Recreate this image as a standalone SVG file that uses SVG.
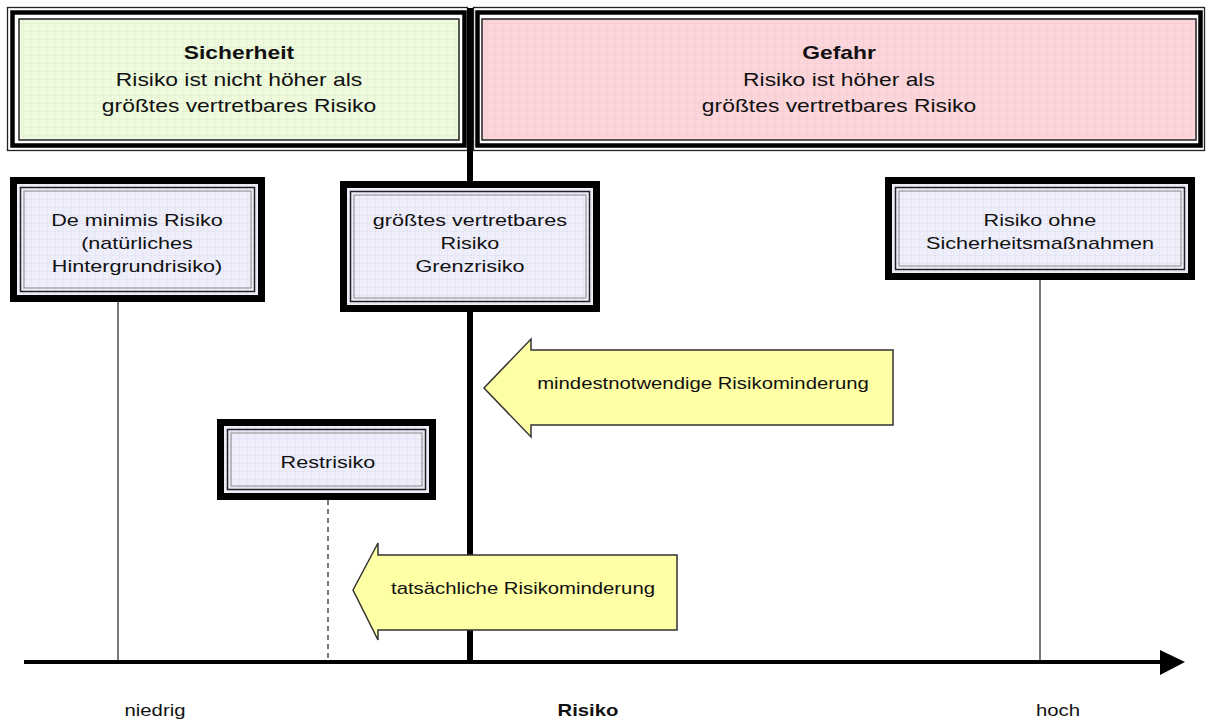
<svg xmlns="http://www.w3.org/2000/svg" width="1208" height="722" viewBox="0 0 1208 722">
<defs>
<pattern id="gridG" width="8" height="8" patternUnits="userSpaceOnUse"><rect width="8" height="8" fill="#eefadc"/><path d="M8 0V8M0 8H8" stroke="#d6e6c4" stroke-width="0.6"/></pattern>
<pattern id="gridP" width="8" height="8" patternUnits="userSpaceOnUse"><rect width="8" height="8" fill="#fbd5da"/><path d="M8 0V8M0 8H8" stroke="#efc2c8" stroke-width="0.6"/></pattern>
<pattern id="gridL" width="8" height="8" patternUnits="userSpaceOnUse"><rect width="8" height="8" fill="#eeeefb"/><path d="M8 0V8M0 8H8" stroke="#d4d4ea" stroke-width="0.6"/></pattern>
</defs>
<style>
text{font-family:"Liberation Sans",Arial,sans-serif;fill:#111;text-anchor:middle;transform-box:fill-box;transform-origin:center;transform:scaleX(1.27)}
.top{font-size:18px}
.nd{font-size:17px}
.ar{font-size:16px}
.ax{font-size:16px}
.b{font-weight:bold}
.o1{fill:none;stroke:#222;stroke-width:1.3}
.o2{fill:none;stroke:#000;stroke-width:4.5}
.k{stroke:#000;stroke-width:7}
.i1{stroke:#222;stroke-width:1.5}
.n{fill:none}
.i2{fill:none;stroke:#888;stroke-width:1}
.arrow{fill:#ffffa6;stroke:#333;stroke-width:1.5}
.ln{stroke:#222;stroke-width:1.2;fill:none}
</style>
<rect width="1208" height="722" fill="#fff"/>
<g id="sicherheit">
<rect x="19" y="19" width="440" height="121" fill="url(#gridG)" class="i1"/>
<rect x="12.5" y="12.5" width="452" height="133" class="o2"/>
<rect x="7.5" y="7.5" width="460" height="143" class="o1"/>
<text class="top b" x="239" y="59">Sicherheit</text>
<text class="top" x="239" y="86">Risiko ist nicht höher als</text>
<text class="top" x="239" y="112">größtes vertretbares Risiko</text>
</g>
<g id="gefahr">
<rect x="482" y="19" width="714" height="121" fill="url(#gridP)" class="i1"/>
<rect x="477.5" y="12.5" width="723" height="133" class="o2"/>
<rect x="473.5" y="7.5" width="731" height="143" class="o1"/>
<text class="top b" x="839" y="59">Gefahr</text>
<text class="top" x="839" y="86">Risiko ist höher als</text>
<text class="top" x="839" y="112">größtes vertretbares Risiko</text>
</g>
<g id="connectors">
<line x1="470" y1="8" x2="470" y2="662" stroke="#000" stroke-width="6"/>
<line x1="118" y1="302" x2="118" y2="662" class="ln"/>
<line x1="1040" y1="280" x2="1040" y2="662" class="ln"/>
<line x1="328" y1="500" x2="328" y2="662" class="ln" stroke-dasharray="5,4"/>
<line x1="24" y1="662" x2="1162" y2="662" stroke="#000" stroke-width="4"/>
<polygon points="1160,650 1185,662 1160,675" fill="#000"/>
</g>
<g id="deminimis">
<rect x="13.5" y="180.5" width="248" height="118" class="k" fill="url(#gridL)"/>
<rect x="20.5" y="187.5" width="234" height="104" class="i1 n"/>
<rect x="24" y="191" width="227" height="97" class="i2"/>
<text class="nd" x="137" y="226">De minimis Risiko</text>
<text class="nd" x="137" y="249">(natürliches</text>
<text class="nd" x="137" y="272">Hintergrundrisiko)</text>
</g>
<g id="grenzrisiko">
<rect x="343.5" y="184.5" width="253" height="124" class="k" fill="url(#gridL)"/>
<rect x="350.5" y="191.5" width="239" height="110" class="i1 n"/>
<rect x="354" y="195" width="232" height="103" class="i2"/>
<text class="nd" x="470" y="226">größtes vertretbares</text>
<text class="nd" x="470" y="249">Risiko</text>
<text class="nd" x="470" y="272">Grenzrisiko</text>
</g>
<g id="ohne">
<rect x="888.5" y="180.5" width="303" height="96" class="k" fill="url(#gridL)"/>
<rect x="895.5" y="187.5" width="289" height="82" class="i1 n"/>
<rect x="899" y="191" width="282" height="75" class="i2"/>
<text class="nd" x="1040" y="226">Risiko ohne</text>
<text class="nd" x="1040" y="249">Sicherheitsmaßnahmen</text>
</g>
<g id="restrisiko">
<rect x="220.5" y="422.5" width="212" height="74" class="k" fill="url(#gridL)"/>
<rect x="227.5" y="429.5" width="198" height="60" class="i1 n"/>
<rect x="231" y="433" width="191" height="53" class="i2"/>
<text class="nd" x="328" y="468">Restrisiko</text>
</g>
<g id="mindest">
<polygon class="arrow" points="484,388 531,339 531,350 893,350 893,425 531,425 531,437"/>
<text class="ar" x="703" y="389">mindestnotwendige Risikominderung</text>
</g>
<g id="tatsaechlich">
<polygon class="arrow" points="353,590 378,543 378,555 677,555 677,630 378,630 378,640"/>
<text class="ar" x="523" y="594">tatsächliche Risikominderung</text>
</g>
<g id="axislabels">
<text class="ax" x="155" y="716">niedrig</text>
<text class="ax b" x="588" y="716">Risiko</text>
<text class="ax" x="1058" y="716">hoch</text>
</g>
</svg>
